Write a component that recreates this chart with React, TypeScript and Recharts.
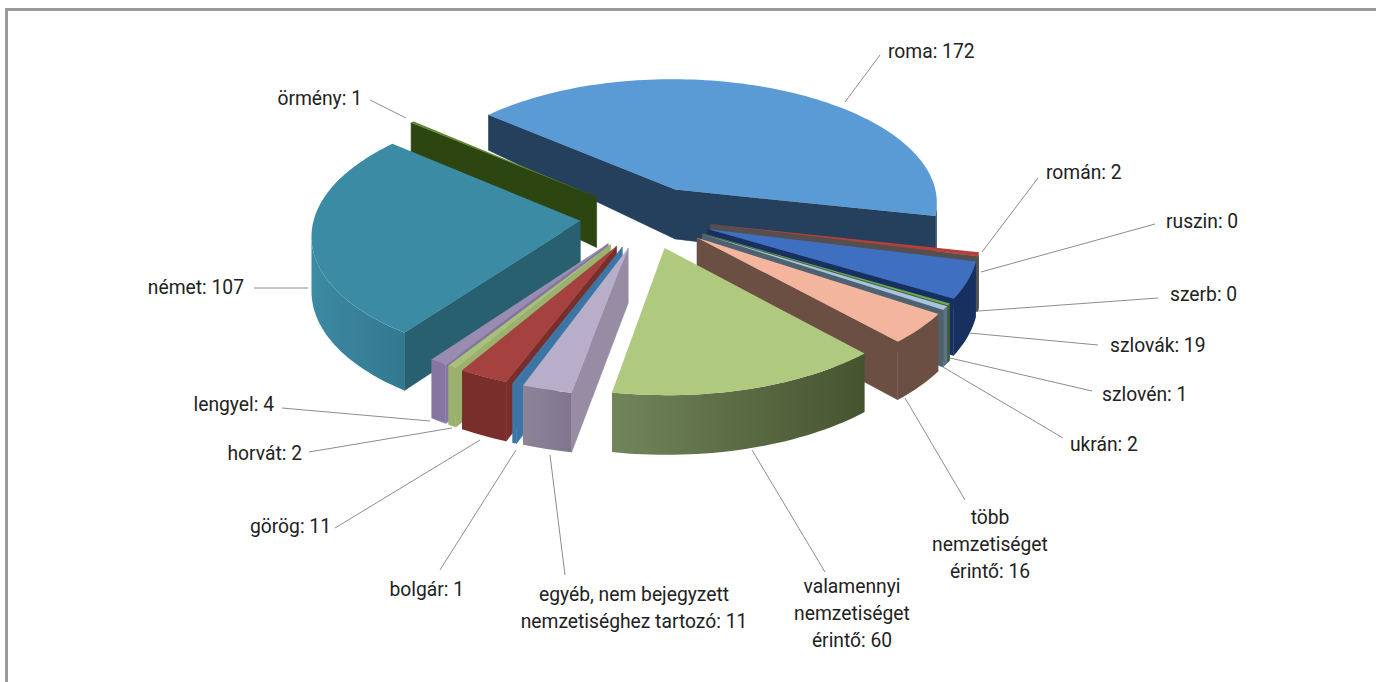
import { PieChart, Pie } from "recharts"

const categories = [
  "roma", "román", "ruszin", "szerb", "szlovák", "szlovén", "ukrán",
  "több\nnemzetiséget\nérintő", "valamennyi\nnemzetiséget\nérintő",
  "egyéb, nem bejegyzett\nnemzetiséghez tartozó", "bolgár", "görög",
  "horvát", "lengyel", "német", "örmény",
]
const values = [172, 2, 0, 0, 19, 1, 2, 16, 60, 11, 1, 11, 2, 4, 107, 1]

// top face, radial wall, outer wall left, outer wall right
const topColors = ["#5b9bd5", "#b5403a", "#666", "#666", "#3f6fc0", "#6fa855", "#a9c3e0", "#f3b59e", "#afc97f", "#b8aec9", "#3e78a8", "#a5423f", "#a8c078", "#9a8bb0", "#3c8ba5", "#5f8a30"]
const wallColors = ["#24405c", "#55504f", "#666", "#666", "#17305f", "#3d5f32", "#4f6272", "#6b4f43", "#4d5a33", "#978ca3", "#3b76a6", "#7a2e2c", "#9ab26e", "#8575a0", "#28606f", "#2d4510"]
const arcLeft = ["#24405c", "#55504f", "#666", "#666", "#17305f", "#3d5f32", "#5d7187", "#6b4f43", "#71855a", "#8e8498", "#3b76a6", "#7a2e2c", "#9ab26e", "#8575a0", "#3c8aa3", "#2d4510"]
const arcRight = ["#24405c", "#55504f", "#666", "#666", "#17305f", "#3d5f32", "#5d7187", "#6b4f43", "#46532f", "#7f7590", "#3b76a6", "#7a2e2c", "#9ab26e", "#8575a0", "#33788f", "#2d4510"]

// label anchor, first baseline, leader start and end
const labelLayout: [number, number, "start" | "middle" | "end", number, number, number, number][] = [
  [888, 58, "start", 880, 55, 845, 102],
  [1046, 179, "start", 1038, 178, 982, 252],
  [1166, 228, "start", 1155, 224, 981, 272],
  [1170, 301, "start", 1158, 298, 979, 311],
  [1110, 352, "start", 1098, 345, 969, 333],
  [1102, 401, "start", 1092, 391, 950, 358],
  [1070, 451, "start", 1063, 438, 943, 367],
  [990, 524, "middle", 965, 500, 905, 398],
  [852, 593, "middle", 825, 572, 752, 450],
  [634, 601, "middle", 565, 575, 550, 455],
  [464, 596, "end", 440, 570, 516, 450],
  [331, 533, "end", 335, 528, 480, 440],
  [302, 460, "end", 309, 452, 452, 428],
  [274, 411, "end", 282, 408, 430, 421],
  [244, 294, "end", 254, 288, 308, 288],
  [362, 105, "end", 370, 100, 406, 118],
]

const pieData = categories.map((name, i) => ({ name, value: values[i], idx: i }))
const LAST_FORWARD = 8
const CX = 641
const CY = 212
const RADIUS = 266
const EXPLODE = 66
const SQUISH = 0.475
const PERSP = 0.00037

const rad = (d: number) => (d * Math.PI) / 180
const dirOf = (t: number): [number, number] => [Math.sin(rad(t)), -Math.cos(rad(t))]
const depthAt = (z: number) => (z >= 0 ? 54 + z * 0.017 : Math.max(30, 54 + z * 0.08))

function Slice3D(props: any) {
  const { cx, cy, startAngle, endAngle, payload } = props
  const idx = payload?.idx ?? props.idx
  const a0 = 90 - Math.max(startAngle, endAngle)
  const a1 = 90 - Math.min(startAngle, endAngle)
  if (a1 - a0 < 0.01) return <g />
  const mid = (a0 + a1) / 2
  const [dx, dz] = dirOf(mid)
  const ax = dx * EXPLODE
  const az = dz * EXPLODE
  const proj = (x: number, z: number, down = false): [number, number] => {
    const f = 1 / (1 - PERSP * z)
    return [cx + x * f, cy + z * SQUISH * f + (down ? depthAt(z) : 0)]
  }
  const onRim = (t: number): [number, number] => {
    const [sx, sz] = dirOf(t)
    return [ax + sx * RADIUS, az + sz * RADIUS]
  }
  const toD = (pts: [number, number][]) =>
    "M" + pts.map((p) => `${p[0].toFixed(1)},${p[1].toFixed(1)}`).join("L") + "Z"

  const steps = Math.max(2, Math.ceil((a1 - a0) / 1.5))
  const angles = Array.from({ length: steps + 1 }, (_, i) => a0 + ((a1 - a0) * i) / steps)
  const topPath = toD([proj(ax, az), ...angles.map((t) => proj(...onRim(t)))])

  const camZ = 1 / PERSP
  const faces = (nx: number, nz: number, px: number, pz: number) => -px * nx + (camZ - pz) * nz > 0
  const radialWall = (t: number) => {
    const [px, pz] = onRim(t)
    return toD([proj(ax, az), proj(px, pz), proj(px, pz, true), proj(ax, az, true)])
  }
  const [n0x, n0z] = dirOf(a0 - 90)
  const [n1x, n1z] = dirOf(a1 + 90)
  const showStart = faces(n0x, n0z, ax, az)
  const showEnd = faces(n1x, n1z, ax, az)

  const visible = angles.filter((t) => {
    const [nx, nz] = dirOf(t)
    const [px, pz] = onRim(t)
    return faces(nx, nz, px, pz)
  })
  const arcPath =
    visible.length > 1
      ? toD([
          ...visible.map((t) => proj(...onRim(t))),
          ...visible.slice().reverse().map((t) => {
            const [px, pz] = onRim(t)
            return proj(px, pz, true)
          }),
        ])
      : null
  const gradId = `arc-${idx}`
  const wall = wallColors[idx]

  return (
    <g>
      <defs>
        <linearGradient id={gradId} x1="0" x2="1" y1="0" y2="0">
          <stop offset="0%" stopColor={arcLeft[idx]} />
          <stop offset="100%" stopColor={arcRight[idx]} />
        </linearGradient>
      </defs>
      {showStart && <path d={radialWall(a0)} fill={wall} stroke={wall} strokeWidth={0.6} />}
      {showEnd && <path d={radialWall(a1)} fill={wall} stroke={wall} strokeWidth={0.6} />}
      {arcPath && <path d={arcPath} fill={`url(#${gradId})`} />}
      <path d={topPath} fill={topColors[idx]} />
    </g>
  )
}

const forwardShape = (p: any) => ((p.payload?.idx ?? p.idx) <= LAST_FORWARD ? <Slice3D {...p} /> : <g />)
const backwardShape = (p: any) => ((p.payload?.idx ?? p.idx) > LAST_FORWARD ? <Slice3D {...p} /> : <g />)

function renderLabel(p: any) {
  const idx = p.payload?.idx ?? p.idx
  const [tx, ty, anchor, x1, y1, x2, y2] = labelLayout[idx]
  const lines = `${categories[idx]}: ${values[idx]}`.split("\n")
  return (
    <g key={idx}>
      <line x1={x1} y1={y1} x2={x2} y2={y2} stroke="#8c8c8c" strokeWidth={1} />
      <g transform={`translate(${tx},${ty}) scale(0.94,1)`}>
        {lines.map((l, i) => (
          <text key={i} x={0} y={i * 27} textAnchor={anchor} fontFamily="Roboto" fontSize={20.5} fill="#222">
            {l}
          </text>
        ))}
      </g>
    </g>
  )
}

export default function App() {
  return (
    <div style={{ position: "absolute", left: 0, top: 0, width: 1376, height: 682, background: "#fff", overflow: "hidden" }}>
      <div style={{ position: "absolute", left: 5, top: 8, width: 1371, height: 674, borderTop: "3px solid #9a9a9a", borderLeft: "3px solid #9a9a9a" }} />
      <PieChart width={1376} height={682} style={{ position: "absolute", left: 0, top: 0 }}>
        <Pie
          data={pieData}
          dataKey="value"
          nameKey="name"
          cx={CX}
          cy={CY}
          outerRadius={RADIUS}
          startAngle={139}
          endAngle={-221}
          stroke="none"
          shape={forwardShape}
          activeShape={forwardShape}
          inactiveShape={forwardShape}
          isAnimationActive={false}
        />
        <Pie
          data={pieData.slice().reverse()}
          dataKey="value"
          nameKey="name"
          cx={CX}
          cy={CY}
          outerRadius={RADIUS}
          startAngle={-221}
          endAngle={139}
          stroke="none"
          shape={backwardShape}
          activeShape={backwardShape}
          inactiveShape={backwardShape}
          label={renderLabel}
          labelLine={false}
          isAnimationActive={false}
        />
      </PieChart>
    </div>
  )
}
